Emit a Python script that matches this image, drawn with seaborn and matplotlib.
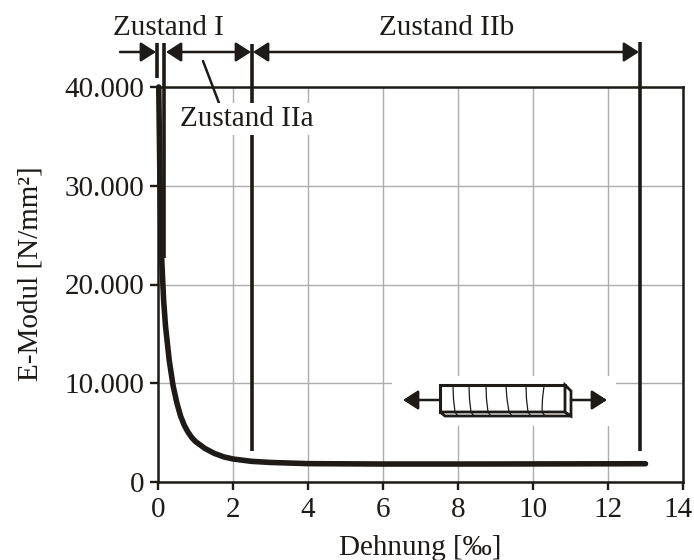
import matplotlib
matplotlib.use("Agg")
import matplotlib.pyplot as plt
import pandas as pd
import seaborn as sns
from matplotlib.patches import Rectangle, Polygon
from matplotlib.transforms import ScaledTranslation

# -------------------------
# Data
# -------------------------

strain = [0.02, 0.05, 0.08, 0.1, 0.15, 0.2, 0.3, 0.4, 0.5, 0.6, 0.7, 0.8, 0.9, 1.0, 1.25, 1.5, 1.75,
          2.0, 2.5, 3.0, 4.0, 6.0, 8.0, 10.0, 13.0]
modulus = [40000, 31000, 25000, 22500, 18400, 15800, 12300, 9800, 8050, 6700, 5750, 5050, 4500, 4100,
           3400, 2900, 2550, 2330, 2090, 1980, 1860, 1820, 1820, 1830, 1850]
x_ticks = [0, 2, 4, 6, 8, 10, 12, 14]
y_ticks = [0, 10000, 20000, 30000, 40000]
y_tick_labels = ["0", "10.000", "20.000", "30.000", "40.000"]

black = "#1d1a17"
grid_grey = "#adadad"

sns.set_style("ticks")
plt.rcParams["font.family"] = ["Liberation Serif", "DejaVu Serif"]
plt.rcParams["font.size"] = 21

df = pd.DataFrame({"strain": strain, "modulus": modulus})

fig = plt.figure(figsize=(6.94, 5.6), dpi=100)
ax = fig.add_axes([158 / 694, 1 - 482 / 560, 525 / 694, 395 / 560])

# -------------------------
# Main curve
# -------------------------

sns.lineplot(data=df, x="strain", y="modulus", color=black, lw=4, ax=ax,
             solid_capstyle="round", clip_on=False, zorder=3)

ax.set_xlim(0, 14)
ax.set_ylim(0, 40000)
ax.set_xticks(x_ticks)
ax.set_yticks(y_ticks)
ax.set_yticklabels(y_tick_labels)
ax.grid(True, color=grid_grey, lw=1)
ax.set_axisbelow(True)
ax.tick_params(length=6, width=1.7, color=black, labelcolor=black, labelsize=21)
ax.tick_params(axis="x", pad=5)
ax.tick_params(axis="y", pad=4)
for s in ax.spines.values():
    s.set_linewidth(1.8)
    s.set_color(black)
ax.set_xlabel("Dehnung [‰]", fontsize=21, color=black)
ax.xaxis.set_label_coords(0.5, -0.135)
ax.set_ylabel("E-Modul [N/mm²]", fontsize=21, color=black)
ax.yaxis.set_label_coords(-0.219, 0.527)

# the last tick label sits a bit left so it stays on the page
last = ax.get_xticklabels()[-1]
last.set_transform(last.get_transform() + ScaledTranslation(-5 / 100, 0, fig.dpi_scale_trans))

# -------------------------
# Overlay in pixel coordinates for the zone marks and the specimen sketch
# -------------------------

ov = fig.add_axes([0, 0, 1, 1], facecolor="none")
ov.set_xlim(0, 694)
ov.set_ylim(560, 0)
ov.axis("off")


def vline(x, y0, y1):
    ov.plot([x, x], [y0, y1], color=black, lw=2.6, solid_capstyle="butt", zorder=2)


def arrow(x0, x1, y, style):
    ov.annotate("", xy=(x1, y), xytext=(x0, y),
                arrowprops=dict(arrowstyle=style + ",head_length=0.42,head_width=0.27", color=black,
                                lw=1.8, mutation_scale=22, shrinkA=0, shrinkB=0), zorder=2)


vline(157.5, 43, 78)
vline(164, 43, 258)
vline(252, 44, 451)
vline(640, 42, 451)

arrow(120, 156, 52, "-|>")
arrow(166, 251, 52, "<|-|>")
arrow(253, 639, 52, "<|-|>")
ov.plot([203, 219], [61, 103], color=black, lw=1.8, zorder=2)

ov.text(168, 28, "Zustand I", ha="center", va="center", fontsize=21, color=black)
ov.text(447, 28, "Zustand IIb", ha="center", va="center", fontsize=21, color=black)
ov.text(247, 119, "Zustand IIa", ha="center", va="center", fontsize=21, color=black, zorder=4,
        bbox=dict(facecolor="white", edgecolor="none", pad=2))

# specimen sketch with its white background
ov.add_patch(Rectangle((392, 376), 224, 50, facecolor="white", edgecolor="none", zorder=2))
arrow(440, 403, 400, "-|>")
arrow(567, 607, 400, "-|>")
ov.add_patch(Rectangle((440, 385), 125, 27, facecolor="white", edgecolor=black, lw=2.2, zorder=3))
ov.add_patch(Polygon([(440, 412), (445, 416), (571, 416), (565, 412)], closed=True,
                     facecolor="white", edgecolor=black, lw=2, zorder=3))
ov.add_patch(Polygon([(565, 385), (571, 391), (571, 416), (565, 412)], closed=True,
                     facecolor="white", edgecolor=black, lw=2, zorder=3))
for cx, bend in [(453, 0.5), (469, 0.5), (486, 0.5), (506, 1), (526, 0.5), (544, -1.5)]:
    ov.plot([cx, cx + bend, cx + 2 * bend + 1], [386, 399, 412], color=black, lw=0.9, zorder=4)
    ov.plot([cx + 2 * bend + 1, cx + 2 * bend + 4], [412, 416], color=black, lw=0.9, zorder=4)

fig.savefig("out.png", dpi=100, facecolor="white")
